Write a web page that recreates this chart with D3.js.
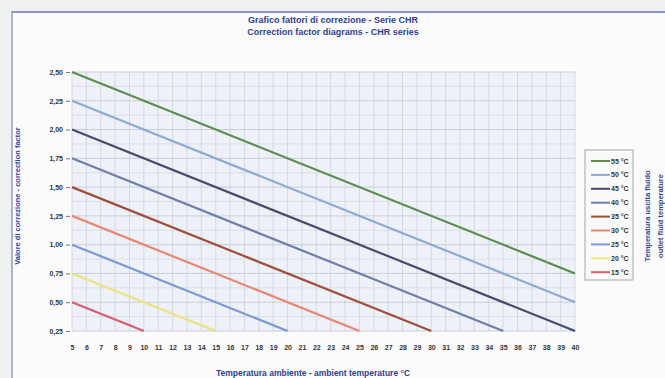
<!DOCTYPE html>
<html>
<head>
<meta charset="utf-8">
<script src="https://cdn.jsdelivr.net/npm/d3@7"></script>
<style>
  html, body { margin: 0; padding: 0; background: #f1f2f4; }
  svg { display: block; }
</style>
</head>
<body>
<svg id="chart" width="665" height="378"></svg>
<script>
// ---- Data ----
const titleLines = ["Grafico fattori di correzione - Serie CHR", "Correction factor diagrams - CHR series"];
const yAxisTitle = "Valore di correzione - correction factor";
const xAxisTitle = "Temperatura ambiente - ambient temperature °C";
const legendTitles = ["Temperatura uscita fluido", "outlet fluid temperature"];

const xTicks = d3.range(5, 41);                 // ambient temperature 5..40 °C
const yTicks = [0.25, 0.5, 0.75, 1.0, 1.25, 1.5, 1.75, 2.0, 2.25, 2.5];

const seriesNames = ["55", "50", "45", "40", "35", "30", "25", "20", "15"];
const seriesStartX = [5, 5, 5, 5, 5, 5, 5, 5, 5];
const seriesStartY = [2.50, 2.25, 2.00, 1.75, 1.50, 1.25, 1.00, 0.75, 0.50];
const seriesEndX   = [40, 40, 40, 35, 30, 25, 20, 15, 10];
const seriesEndY   = [0.75, 0.50, 0.25, 0.25, 0.25, 0.25, 0.25, 0.25, 0.25];

// ---- Styles ----
const seriesColors = ["#5d8c4e", "#8fa8d6", "#4a4a6e", "#6f7eae", "#a14e3a", "#ea8770", "#7b98d6", "#ece27e", "#d85e6e"];

const svg = d3.select("#chart");

// outer frame
svg.append("rect").attr("x", 0).attr("y", 0).attr("width", 665).attr("height", 378).attr("fill", "#eff0f2");
svg.append("rect").attr("x", 12).attr("y", 12).attr("width", 660).attr("height", 370).attr("fill", "#fbfbfc");
svg.append("line").attr("x1", 11).attr("x2", 665).attr("y1", 12).attr("y2", 12)
  .attr("stroke", "#8a97c0").attr("stroke-width", 2);
svg.append("line").attr("x1", 12).attr("x2", 12).attr("y1", 12).attr("y2", 378)
  .attr("stroke", "#aab3d0").attr("stroke-width", 2);

const plot = { left: 72, right: 575, top: 72, bottom: 331 };
const x = d3.scaleLinear().domain([5, 40]).range([plot.left, plot.right]);
const y = d3.scaleLinear().domain([0.25, 2.5]).range([plot.bottom, plot.top]);

// plot background
svg.append("rect").attr("x", plot.left).attr("y", plot.top)
  .attr("width", plot.right - plot.left).attr("height", plot.bottom - plot.top)
  .attr("fill", "#eef1f7");

// grid
const g = svg.append("g");
g.selectAll("line.v").data(xTicks).join("line")
  .attr("x1", d => x(d)).attr("x2", d => x(d))
  .attr("y1", plot.top).attr("y2", plot.bottom)
  .attr("stroke", "#cdd3df").attr("stroke-width", 0.8);
g.selectAll("line.hm").data(d3.range(0.25, 2.5001, 0.125)).join("line")
  .attr("x1", plot.left).attr("x2", plot.right)
  .attr("y1", d => y(d)).attr("y2", d => y(d))
  .attr("stroke", d => (Math.abs(d * 4 - Math.round(d * 4)) < 1e-6) ? "#bfc5d2" : "#d5dae4")
  .attr("stroke-width", 0.8);

// axes
const fmt = d => d.toFixed(2).replace(".", ",");
const yAxis = svg.append("g").attr("transform", `translate(${plot.left - 2},0)`)
  .call(d3.axisLeft(y).tickValues(yTicks).tickFormat(fmt).tickSize(4).tickPadding(3));
yAxis.select(".domain").remove();
yAxis.selectAll(".tick line").attr("stroke", "#777");
yAxis.selectAll("text").attr("font-family", "Liberation Sans, Arial, sans-serif")
  .attr("font-size", 7).attr("font-weight", "bold").attr("fill", "#333");

const xAxis = svg.append("g").attr("transform", `translate(0,${plot.bottom + 2})`)
  .call(d3.axisBottom(x).tickValues(xTicks).tickFormat(d3.format("d")).tickSize(0).tickPadding(12));
xAxis.select(".domain").remove();
xAxis.selectAll("text").attr("font-family", "Liberation Sans, Arial, sans-serif")
  .attr("font-size", 7).attr("font-weight", "bold").attr("fill", "#333");

// series lines
const lineGen = d3.line().x(d => x(d[0])).y(d => y(d[1]));
const seriesData = seriesNames.map((n, i) => ({
  name: n, color: seriesColors[i],
  pts: [[seriesStartX[i], seriesStartY[i]], [seriesEndX[i], seriesEndY[i]]]
}));
svg.append("g").selectAll("path").data(seriesData).join("path")
  .attr("d", d => lineGen(d.pts))
  .attr("fill", "none").attr("stroke", d => d.color).attr("stroke-width", 2.2);

// titles
const blue = "#2f3f92";
svg.append("g").selectAll("text").data(titleLines).join("text")
  .attr("x", 333).attr("y", (d, i) => 23 + i * 12)
  .attr("text-anchor", "middle").attr("font-family", "Liberation Sans, Arial, sans-serif")
  .attr("font-size", 9).attr("font-weight", "bold").attr("fill", blue).text(d => d);

svg.append("text").attr("transform", "translate(20,196) rotate(-90)")
  .attr("text-anchor", "middle").attr("font-family", "Liberation Sans, Arial, sans-serif")
  .attr("font-size", 7.5).attr("font-weight", "bold").attr("fill", blue).text(yAxisTitle);

svg.append("text").attr("x", 313).attr("y", 376)
  .attr("text-anchor", "middle").attr("font-family", "Liberation Sans, Arial, sans-serif")
  .attr("font-size", 8.5).attr("font-weight", "bold").attr("fill", blue).text(xAxisTitle);

// legend
const lg = { x: 585, y: 150, w: 48, h: 130 };
svg.append("rect").attr("x", lg.x).attr("y", lg.y).attr("width", lg.w).attr("height", lg.h)
  .attr("fill", "#fafafb").attr("stroke", "#b0b3ba").attr("stroke-width", 1.2);
const items = svg.append("g").selectAll("g").data(seriesData).join("g")
  .attr("transform", (d, i) => `translate(${lg.x},${lg.y + 11 + i * 13.9})`);
items.append("line").attr("x1", 6).attr("x2", 25).attr("y1", 0).attr("y2", 0)
  .attr("stroke", d => d.color).attr("stroke-width", 2);
items.append("text").attr("x", 26).attr("y", 2.5)
  .attr("font-family", "Liberation Sans, Arial, sans-serif").attr("font-size", 7)
  .attr("font-weight", "bold").attr("fill", "#333").text(d => d.name + " °C");

svg.append("g").selectAll("text").data(legendTitles).join("text")
  .attr("transform", (d, i) => `translate(${650 + i * 13},216) rotate(-90)`)
  .attr("text-anchor", "middle").attr("font-family", "Liberation Sans, Arial, sans-serif")
  .attr("font-size", 7.5).attr("font-weight", "bold").attr("fill", blue).text(d => d);
</script>
</body>
</html>
